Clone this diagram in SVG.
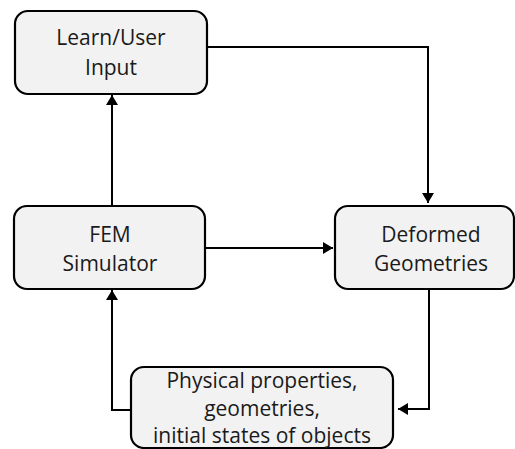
<svg xmlns="http://www.w3.org/2000/svg" width="515" height="449" viewBox="0 0 515 449">
  <style>
    .box { fill: #f2f2f2; stroke: #000; stroke-width: 2.2; }
    .lbl { font-family: "Open Sans", "Liberation Sans", sans-serif; font-size: 21px; fill: #1a1a1a; text-anchor: middle; }
    .wire { fill: none; stroke: #000; stroke-width: 2; }
  </style>
  <defs>
    <marker id="head" viewBox="0 0 10 12" refX="10" refY="6" markerWidth="10" markerHeight="12" markerUnits="userSpaceOnUse" orient="auto">
      <path d="M0,0 L10,6 L0,12 Z" fill="#000"/>
    </marker>
  </defs>

  <rect width="515" height="449" fill="#fff"/>

  <g id="connectors">
    <path class="wire" d="M207,47 H428 V203" marker-end="url(#head)"/>
    <path class="wire" d="M112,205 V95" marker-end="url(#head)"/>
    <path class="wire" d="M205,248 H333" marker-end="url(#head)"/>
    <path class="wire" d="M429,289 V409 H398" marker-end="url(#head)"/>
    <path class="wire" d="M131,410 H112 V290" marker-end="url(#head)"/>
  </g>

  <g id="learn-input">
    <rect class="box" x="15" y="11" width="192" height="83" rx="13"/>
    <text class="lbl" x="111" y="45">Learn/User</text>
    <text class="lbl" x="111" y="75">Input</text>
  </g>

  <g id="fem-simulator">
    <rect class="box" x="14" y="206" width="191" height="83" rx="13"/>
    <text class="lbl" x="110" y="242">FEM</text>
    <text class="lbl" x="110" y="271">Simulator</text>
  </g>

  <g id="deformed-geometries">
    <rect class="box" x="335" y="206" width="179" height="83" rx="13"/>
    <text class="lbl" x="431" y="242">Deformed</text>
    <text class="lbl" x="431" y="271">Geometries</text>
  </g>

  <g id="physical-properties">
    <rect class="box" x="131" y="367" width="262" height="81" rx="13"/>
    <text class="lbl" x="262" y="388">Physical properties,</text>
    <text class="lbl" x="262" y="416">geometries,</text>
    <text class="lbl" x="262" y="443">initial states of objects</text>
  </g>
</svg>
